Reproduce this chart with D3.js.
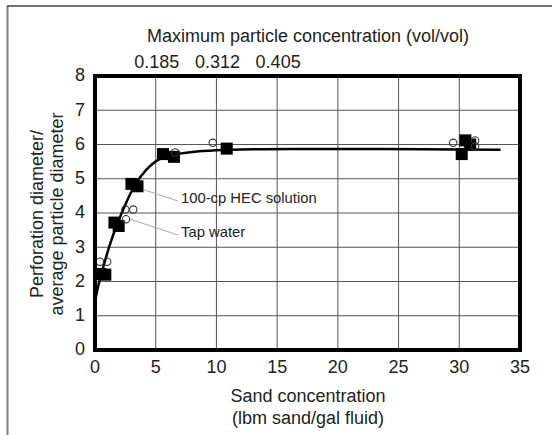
<!DOCTYPE html>
<html><head><meta charset="utf-8">
<script src="https://cdn.jsdelivr.net/npm/d3@7"></script>
<style>body{margin:0;background:#fff}svg{display:block}text{font-family:"Liberation Sans",Arial,sans-serif;fill:#222}</style>
</head><body><svg id="c" width="552" height="435"></svg>
<script>
// Data
const xTicks = [0,5,10,15,20,25,30,35];
const yTicks = [0,1,2,3,4,5,6,7,8];
const topTickPos = [5,10,15];
const topTickLabels = ["0.185","0.312","0.405"];
const hecX = [0.45,0.85,1.6,1.95,3.0,3.5,5.6,6.5,10.85,30.2,30.5,30.9];
const hecY = [2.22,2.2,3.72,3.62,4.85,4.78,5.72,5.64,5.88,5.72,6.12,6.0];
const tapX = [0.4,1.0,2.5,3.15,2.55,6.6,9.7,29.5,31.3,31.3];
const tapY = [2.58,2.58,4.1,4.1,3.82,5.77,6.05,6.05,6.12,5.95];
const fitX = [0,0.3,0.7,1.2,1.8,2.5,3.3,4.2,5.2,6.5,8,10,13,17,22,27,33.4];
const fitY = [1.4,1.92,2.45,3.05,3.65,4.25,4.82,5.25,5.55,5.7,5.78,5.83,5.86,5.87,5.87,5.86,5.85];

const svg = d3.select("#c");
const x = d3.scaleLinear().domain([0,35]).range([95,520]);
const y = d3.scaleLinear().domain([0,8]).range([350,76]);

// outer frame lines
svg.append("line").attr("x1",7.5).attr("x2",7.5).attr("y1",6).attr("y2",435).attr("stroke","#808080").attr("stroke-width",2);
svg.append("line").attr("x1",7).attr("x2",552).attr("y1",6).attr("y2",6).attr("stroke","#444").attr("stroke-width",1.3);

// grid
const g = svg.append("g");
g.selectAll(".vg").data(xTicks.slice(1,-1)).enter().append("line")
  .attr("x1",d=>x(d)).attr("x2",d=>x(d)).attr("y1",y(8)).attr("y2",y(0))
  .attr("stroke","#555").attr("stroke-width",1);
g.selectAll(".hg").data(yTicks.slice(1,-1)).enter().append("line")
  .attr("x1",x(0)).attr("x2",x(35)).attr("y1",d=>y(d)).attr("y2",d=>y(d))
  .attr("stroke","#555").attr("stroke-width",1);

// axes tick labels
svg.selectAll(".xl").data(xTicks).enter().append("text")
  .attr("x",d=>x(d)).attr("y",373).attr("text-anchor","middle").attr("font-size",18).text(d=>d);
svg.selectAll(".yl").data(yTicks).enter().append("text")
  .attr("x",80).attr("y",d=>y(d)-1).attr("dy","0.36em").attr("text-anchor","middle").attr("font-size",18).text(d=>d);
svg.selectAll(".tl").data(topTickPos).enter().append("text")
  .attr("x",d=>x(d)+1).attr("y",68).attr("text-anchor","middle").attr("font-size",18).text((d,i)=>topTickLabels[i]);

// titles
svg.append("text").attr("x",308).attr("y",42).attr("text-anchor","middle").attr("font-size",18).text("Maximum particle concentration (vol/vol)");
svg.append("text").attr("x",308).attr("y",402).attr("text-anchor","middle").attr("font-size",18).text("Sand concentration");
svg.append("text").attr("x",308).attr("y",424).attr("text-anchor","middle").attr("font-size",18).text("(lbm sand/gal fluid)");
const yt = svg.append("text").attr("transform","translate(43,214) rotate(-90)").attr("text-anchor","middle").attr("font-size",18);
yt.append("tspan").attr("x",0).attr("y",0).text("Perforation diameter/");
yt.append("tspan").attr("x",0).attr("y",20).text("average particle diameter");

// fit curve
const line = d3.line().x(d=>x(d[0])).y(d=>y(d[1])).curve(d3.curveCatmullRom.alpha(0.5));
svg.append("path").datum(fitX.map((v,i)=>[v,fitY[i]])).attr("d",line)
  .attr("fill","none").attr("stroke","#000").attr("stroke-width",2.5);

// callouts
svg.append("line").attr("x1",x(3.85)).attr("y1",y(4.7)).attr("x2",178).attr("y2",201).attr("stroke","#aaa").attr("stroke-width",1);
svg.append("line").attr("x1",x(2.9)).attr("y1",y(3.82)).attr("x2",178).attr("y2",235).attr("stroke","#aaa").attr("stroke-width",1);
svg.append("text").attr("x",181).attr("y",202.5).attr("font-size",14.8).text("100-cp HEC solution");
svg.append("text").attr("x",181).attr("y",236.5).attr("font-size",14.8).text("Tap water");

// markers
const s = 12;
svg.selectAll(".sq").data(hecX.map((v,i)=>[v,hecY[i]])).enter().append("rect")
  .attr("x",d=>x(d[0])-s/2).attr("y",d=>y(d[1])-s/2).attr("width",s).attr("height",s).attr("fill","#000");
svg.selectAll(".ci").data(tapX.map((v,i)=>[v,tapY[i]])).enter().append("circle")
  .attr("cx",d=>x(d[0])).attr("cy",d=>y(d[1])).attr("r",3.7)
  .attr("fill","none").attr("stroke","#333").attr("stroke-width",1.1);

// plot frame
svg.append("rect").attr("x",x(0)).attr("y",y(8)).attr("width",x(35)-x(0)).attr("height",y(0)-y(8))
  .attr("fill","none").attr("stroke","#000").attr("stroke-width",4);
</script></body></html>
